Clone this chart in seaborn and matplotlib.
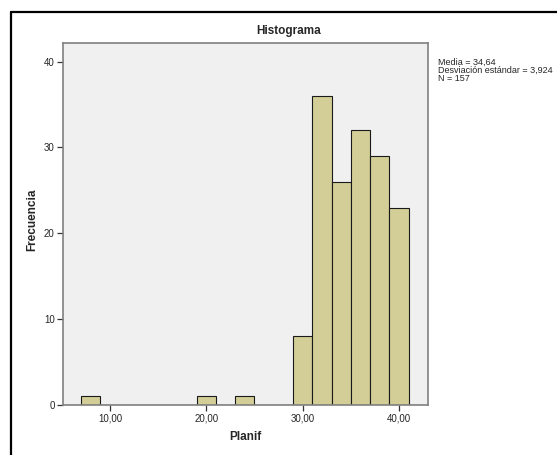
import numpy as np
import pandas as pd
import matplotlib
matplotlib.use("Agg")
import matplotlib.pyplot as plt
import seaborn as sns
from matplotlib.lines import Line2D

# Data (bin centers and frequencies)
bin_centers = [8, 20, 24, 30, 32, 34, 36, 38, 40]
frequencies = [1, 1, 1, 8, 36, 26, 32, 29, 23]
x_ticks = [10, 20, 30, 40]
x_tick_labels = ["10,00", "20,00", "30,00", "40,00"]
y_ticks = [0, 10, 20, 30, 40]
stats_text = ["Media = 34,64", "Desviación estándar = 3,924", "N = 157"]

df = pd.DataFrame({"Planif": bin_centers, "freq": frequencies})

sns.set_style("white")
plt.rcParams['font.family'] = ['Liberation Sans', 'DejaVu Sans']

fig = plt.figure(figsize=(5.57, 4.55), dpi=100)
ax = fig.add_axes([63/557, 1 - 405/455, (427.5 - 63)/557, (405 - 42.7)/455])
ax.set_facecolor("#F0F0F0")

sns.histplot(data=df, x="Planif", weights="freq", binwidth=2, binrange=(7, 41),
             color="#D3CE97", alpha=1.0, edgecolor="#1a1a1a", linewidth=0.8, ax=ax)

ax.set_xlim(5.12, 42.96)
ax.set_ylim(0, 42.2)
ax.set_xticks(x_ticks)
ax.set_xticklabels(x_tick_labels)
ax.set_yticks(y_ticks)
ax.tick_params(axis="both", direction="out", length=4, width=0.9, color="#333333",
               labelsize=7, pad=2, bottom=True, left=True)
for s in ax.spines.values():
    s.set_color("#808080")
    s.set_linewidth(1.2)
ax.set_xlabel("")
ax.set_ylabel("")

fig.text(289/557, 1 - 31/455, "Histograma", ha="center", va="center",
         fontsize=8.5, fontweight="bold")
fig.text(245/557, 1 - 437/455, "Planif", ha="center", va="center",
         fontsize=8.5, fontweight="bold")
fig.text(32/557, 1 - 220/455, "Frecuencia", ha="center", va="center",
         rotation=90, fontsize=8.5, fontweight="bold")

fig.text(438/557, 1 - 70.5/455, "\n".join(stats_text), ha="left", va="center",
         fontsize=6.5, linespacing=0.85)

# outer frame lines (top and left)
fig.add_artist(Line2D([11/557, 1.0], [1 - 11.5/455, 1 - 11.5/455],
                      transform=fig.transFigure, color="black", linewidth=1.6))
fig.add_artist(Line2D([11/557, 11/557], [1 - 11.5/455, 0.0],
                      transform=fig.transFigure, color="black", linewidth=1.6))

fig.savefig("out.png", dpi=100)
